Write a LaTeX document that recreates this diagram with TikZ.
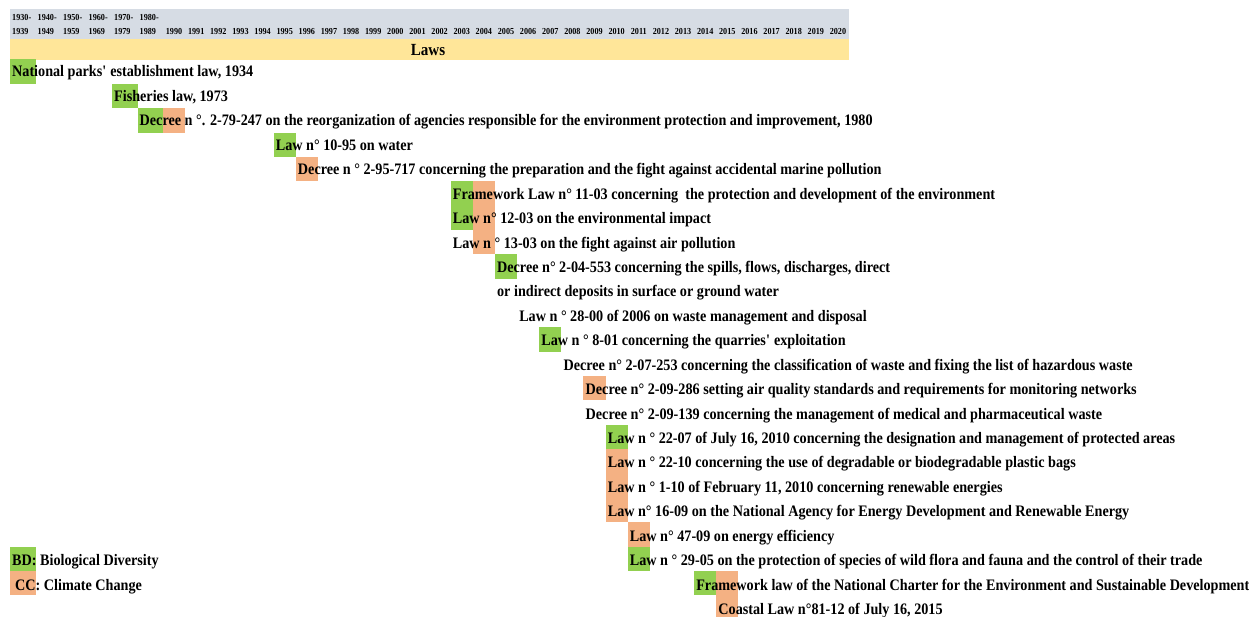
\documentclass[tikz,border=0pt]{standalone}
\usepackage{fontspec}
\setmainfont{Liberation Serif}[FakeStretch=0.886]
\definecolor{hdrgray}{HTML}{D6DCE4}
\definecolor{lawyellow}{HTML}{FFE699}
\definecolor{bdgreen}{HTML}{92D050}
\definecolor{ccorange}{HTML}{F4B183}
\tikzset{
  lawtext/.style={anchor=base west, inner sep=0pt, font=\fontsize{16}{18}\selectfont\bfseries},
  yeartext/.style={anchor=base, inner sep=0pt, font=\fontsize{9.2}{10}\selectfont\bfseries},
  decadetext/.style={anchor=base west, inner sep=0pt, font=\fontsize{9.2}{10}\selectfont\bfseries},
  bdbox/.style={fill=bdgreen},
  ccbox/.style={fill=ccorange},
}
% x of a decade column (0..5) and of a year column
\newcommand\dcx[1]{10+25.5*#1}
\newcommand\yrx[1]{163+22.13*(#1-1990)}
\newcommand\rowtop[1]{59.5+24.35*#1}
\newcommand\rowbase[1]{77+24.43*#1}
% highlight: {x-left}{width}{row}{style}
\newcommand\hlbox[4]{\path[#4] ({#1},{\rowtop{#3}}) rectangle ++(#2,24.35);}
% text: {name}{x-left}{row}{text}
\newcommand\lawrow[4]{\node[lawtext] (#1) at ({#2+2},{\rowbase{#3}}) {#4};}
\begin{document}
\begin{tikzpicture}[x=1pt,y=-1pt]
\useasboundingbox (0,0) rectangle (1249,617);
\clip (0,0) rectangle (1249,617);
% header bands
\fill[hdrgray] (10,9) rectangle (849,39);
\fill[lawyellow] (10,39) rectangle (849,60);
\node[anchor=base, inner sep=0pt, font=\fontsize{17}{19}\selectfont\bfseries] (laws) at (428,56) {Laws};
% decade labels
\node[decadetext] (d0a) at ({\dcx{0}+2},20.5) {1930-};
\node[decadetext] (d0b) at ({\dcx{0}+2},34.8) {1939};
\node[decadetext] (d1a) at ({\dcx{1}+2},20.5) {1940-};
\node[decadetext] (d1b) at ({\dcx{1}+2},34.8) {1949};
\node[decadetext] (d2a) at ({\dcx{2}+2},20.5) {1950-};
\node[decadetext] (d2b) at ({\dcx{2}+2},34.8) {1959};
\node[decadetext] (d3a) at ({\dcx{3}+2},20.5) {1960-};
\node[decadetext] (d3b) at ({\dcx{3}+2},34.8) {1969};
\node[decadetext] (d4a) at ({\dcx{4}+2},20.5) {1970-};
\node[decadetext] (d4b) at ({\dcx{4}+2},34.8) {1979};
\node[decadetext] (d5a) at ({\dcx{5}+2},20.5) {1980-};
\node[decadetext] (d5b) at ({\dcx{5}+2},34.8) {1989};
% year labels
\foreach \y in {1990,...,2020}{
  \node[yeartext] (y\y) at ({\yrx{\y}+11.06},34.8) {\y};
}
% highlight boxes
\hlbox{\dcx{0}}{25.5}{0}{bdbox}
\hlbox{\dcx{4}}{25.5}{1}{bdbox}
\hlbox{\dcx{5}}{25.5}{2}{bdbox}
\hlbox{\yrx{1990}}{22.13}{2}{ccbox}
\hlbox{\yrx{1995}}{22.13}{3}{bdbox}
\hlbox{\yrx{1996}}{22.13}{4}{ccbox}
\hlbox{\yrx{2003}}{22.13}{5}{bdbox}
\hlbox{\yrx{2004}}{22.13}{5}{ccbox}
\hlbox{\yrx{2003}}{22.13}{6}{bdbox}
\hlbox{\yrx{2004}}{22.13}{6}{ccbox}
\hlbox{\yrx{2004}}{22.13}{7}{ccbox}
\hlbox{\yrx{2005}}{22.13}{8}{bdbox}
\hlbox{\yrx{2007}}{22.13}{11}{bdbox}
\hlbox{\yrx{2009}}{22.13}{13}{ccbox}
\hlbox{\yrx{2010}}{22.13}{15}{bdbox}
\hlbox{\yrx{2010}}{22.13}{16}{ccbox}
\hlbox{\yrx{2010}}{22.13}{17}{ccbox}
\hlbox{\yrx{2010}}{22.13}{18}{ccbox}
\hlbox{\yrx{2011}}{22.13}{19}{ccbox}
\hlbox{\yrx{2011}}{22.13}{20}{bdbox}
\hlbox{\yrx{2014}}{22.13}{21}{bdbox}
\hlbox{\yrx{2015}}{22.13}{21}{ccbox}
\hlbox{\yrx{2015}}{22.13}{22}{ccbox}
\hlbox{\dcx{0}}{25.5}{20}{bdbox}
\hlbox{\dcx{0}}{25.5}{21}{ccbox}
% law texts
\lawrow{r0}{\dcx{0}}{0}{National parks\textquotesingle{} establishment law, 1934}
\lawrow{r1}{\dcx{4}}{1}{Fisheries law, 1973}
\lawrow{r2}{\dcx{5}}{2}{Decree n °. 2-79-247 on the reorganization of agencies responsible for the environment protection and improvement, 1980}
\lawrow{r3}{\yrx{1995}}{3}{Law n° 10-95 on water}
\lawrow{r4}{\yrx{1996}}{4}{Decree n ° 2-95-717 concerning the preparation and the fight against accidental marine pollution}
\lawrow{r5}{\yrx{2003}}{5}{Framework Law n° 11-03 concerning \ the protection and development of the environment}
\lawrow{r6}{\yrx{2003}}{6}{Law n° 12-03 on the environmental impact}
\lawrow{r7}{\yrx{2003}}{7}{Law n ° 13-03 on the fight against air pollution}
\lawrow{r8}{\yrx{2005}}{8}{Decree n° 2-04-553 concerning the spills, flows, discharges, direct}
\lawrow{r9}{\yrx{2005}}{9}{or indirect deposits in surface or ground water}
\lawrow{r10}{\yrx{2006}}{10}{Law n ° 28-00 of 2006 on waste management and disposal}
\lawrow{r11}{\yrx{2007}}{11}{Law n ° 8-01 concerning the quarries\textquotesingle{} exploitation}
\lawrow{r12}{\yrx{2008}}{12}{Decree n° 2-07-253 concerning the classification of waste and fixing the list of hazardous waste}
\lawrow{r13}{\yrx{2009}}{13}{Decree n° 2-09-286 setting air quality standards and requirements for monitoring networks}
\lawrow{r14}{\yrx{2009}}{14}{Decree n° 2-09-139 concerning the management of medical and pharmaceutical waste}
\lawrow{r15}{\yrx{2010}}{15}{Law n ° 22-07 of July 16, 2010 concerning the designation and management of protected areas}
\lawrow{r16}{\yrx{2010}}{16}{Law n ° 22-10 concerning the use of degradable or biodegradable plastic bags}
\lawrow{r17}{\yrx{2010}}{17}{Law n ° 1-10 of February 11, 2010 concerning renewable energies}
\lawrow{r18}{\yrx{2010}}{18}{Law n° 16-09 on the National Agency for Energy Development and Renewable Energy}
\lawrow{r19}{\yrx{2011}}{19}{Law n° 47-09 on energy efficiency}
\lawrow{r20}{\yrx{2011}}{20}{Law n ° 29-05 on the protection of species of wild flora and fauna and the control of their trade}
\lawrow{r21}{\yrx{2014}}{21}{Framework law of the National Charter for the Environment and Sustainable Development}
\lawrow{r22}{\yrx{2015}}{22}{Coastal Law n°81-12 of July 16, 2015}
% legend
\lawrow{bd}{\dcx{0}}{20}{BD: Biological Diversity}
\lawrow{cc}{\dcx{0}+3}{21}{CC: Climate Change}
\end{tikzpicture}
\end{document}
